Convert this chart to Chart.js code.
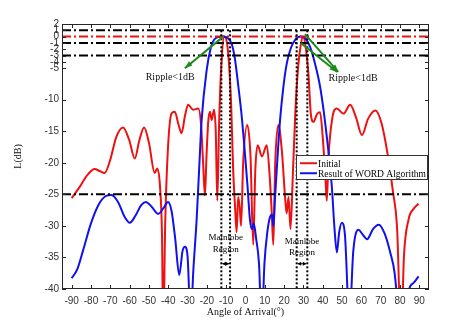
<!DOCTYPE html>
<html>
<head>
<meta charset="utf-8">
<script src="https://cdn.jsdelivr.net/npm/chart.js"></script>
<style>
  html, body { margin: 0; padding: 0; background: #fff; }
  #wrap { width: 474px; height: 326px; }
</style>
</head>
<body>
<div id="wrap"><canvas id="myChart"></canvas></div>
<script>
// pattern of the initial array (red) and after WORD (blue), level in dB vs angle
const redAngle = [-90, -86, -82, -78.1, -75.5, -72.9, -70, -67, -63.4, -60.3, -57.3, -55, -52.5, -50, -47, -45.7,
  -44.2, -43.2, -42.6, -41.6, -40.2, -38.3, -36.6, -34.8, -33.1, -31.3, -29.7, -27.1, -24.5, -23, -21.8, -21,
  -20.2, -19.3, -18.4, -17.5, -16.3, -15.4, -14.6, -13.6, -12.5, -11, -9.5, -8.5, -7.4, -6.4, -5.4, -4.6,
  -3.8, -3, -2.3, -1.2, 0.9, 2.6, 4, 5.1, 6.3, 8.5, 11, 12.5, 13.6, 14.4, 15.4, 17, 18.8, 20.5, 21.3, 22.3,
  23.3, 24.5, 25.8, 27.2, 28.5, 29.8, 31.2, 32.6, 33.8, 35.2, 37, 38.6, 40, 41.3, 42.1, 43, 45, 47.3, 50.7,
  54.2, 57.2, 60.3, 63.5, 67.2, 70.5, 73.5, 76.3, 78.5, 80.6, 82, 84.4, 87, 89.6];
const redLevel = [-25.6, -23.9, -22, -21, -21.3, -21.6, -19.5, -16, -14.4, -16.3, -19.3, -16.5, -14.4, -16.8, -21.6, -20.9,
  -24, -32, -48, -30, -18, -12.2, -11.9, -13.8, -15.3, -12.5, -10.8, -11.6, -11.4, -14, -21, -25.2,
  -19, -13.5, -11.9, -13.2, -11.6, -15, -26, -13, -4.5, 0, -1.2, -4.5, -11, -21, -27, -31,
  -25.4, -27, -30, -20, -14, -19, -33, -21, -17.2, -19, -17.2, -22, -28, -33, -20, -14, -18, -25.5, -28, -25.4,
  -30.5, -22, -12, -5, -1.5, 0, -1.8, -6, -12.2, -13.5, -12.3, -12, -16, -22, -26, -19, -12.8, -11.4, -12.2,
  -10.8, -12.8, -15.6, -13, -11.7, -13.8, -18.5, -24.5, -30.5, -48, -35, -29, -27.3, -26.5];

const blueAngle = [-90, -87, -84, -80, -76, -72.5, -69.4, -66, -62.5, -59.9, -57, -54, -51.6, -48.5, -45.2, -42.5,
  -40.1, -38.3, -36.4, -34.3, -32.6, -31.4, -30, -28.4, -27, -25.3, -24, -22.7, -20.1, -18, -16.3, -14,
  -11.5, -9, -7.2, -5.5, -3.7, -2, -0.3, 1, 2.3, 3.3, 4.3, 5.5, 7, 8.4, 9.8, 11.3, 12.8, 13.8, 14.4, 15.2,
  16.5, 17.9, 19.6, 21.4, 23.5, 25.7, 28.5, 31, 33.4, 36, 38.6, 40.4, 42.1, 43.5, 44.7, 46.1, 47.3, 48.5,
  49.9, 51.5, 53.8, 55.8, 58.5, 60.5, 63, 66, 69, 72, 75, 77.2, 79, 81.5, 84.3, 86.8, 89.6];
const blueLevel = [-38.3, -36.8, -33.8, -29.6, -26.6, -25.3, -25.1, -26.2, -28.6, -29.5, -28.4, -26.7, -26.2, -27, -28.1, -27.2,
  -26.2, -27.6, -32, -37.8, -34, -33.3, -34.8, -45, -37, -29, -21, -13.2, -5.3, -1.8, -0.5, -0.05,
  0, -0.3, -1.1, -3.5, -7.9, -12.5, -18.5, -23.5, -29, -30.5, -29.6, -32, -36, -46, -36, -31, -28.5, -28.2, -30, -26,
  -19.5, -13.2, -8, -4.2, -1.8, -0.5, 0, -0.3, -1.6, -4.3, -7.9, -11.6, -15.9, -19.8, -23.8, -30.5, -34.2, -31,
  -29.5, -31.5, -45, -34, -30.6, -31.3, -32.1, -30.5, -29.8, -31.2, -34.3, -37.5, -44, -60, -40.6, -39.1, -38];

// axis ticks
const xTicks = [-90, -80, -70, -60, -50, -40, -30, -20, -10, 0, 10, 20, 30, 40, 50, 60, 70, 80, 90];
const yTicks = [2, 1, 0, -1, -2, -3, -4, -5, -10, -15, -20, -25, -30, -35, -40];

// reference levels and mainlobe region edges
const rippleLevels = [1, -1, -3];
const passLevel = 0;
const sidelobeLevel = -25;
const mainlobeEdges = [[-12.5, -8], [26.5, 32]];
const xRange = [-95, 95];

const serif = '"Liberation Serif", "Times New Roman", serif';
const sans = '"Liberation Sans", Arial, sans-serif';

function pts(xs, ys) { return xs.map((v, i) => ({ x: v, y: ys[i] })); }

const dashDot = [9, 3, 2, 3];
const datasets = [
  { label: 'Initial', data: pts(redAngle, redLevel), borderColor: '#ee1111', borderWidth: 2, order: 3,
    pointRadius: 0, cubicInterpolationMode: 'monotone' },
  { label: 'Result of WORD Algorithm', data: pts(blueAngle, blueLevel), borderColor: '#1111ee', borderWidth: 2, order: 2,
    pointRadius: 0, cubicInterpolationMode: 'monotone' },
];
rippleLevels.concat([sidelobeLevel]).forEach(v => datasets.push({
  data: pts(xRange, [v, v]), borderColor: '#000', borderWidth: 2, borderDash: dashDot, pointRadius: 0, order: 1 }));
datasets.push({ data: pts(xRange, [passLevel, passLevel]), borderColor: '#ee1111', borderWidth: 2,
  borderDash: dashDot, pointRadius: 0, order: 1 });
mainlobeEdges.flat().forEach(v => datasets.push({
  data: pts([v, v], [1, -40]), borderColor: '#000', borderWidth: 2, borderDash: [2, 2], pointRadius: 0, order: 0 }));

// notes drawn on top of the plot (axis units)
const rippleNotes = [{ x: -39, y: -6.4 }, { x: 55.7, y: -6.6 }];
const rippleArrows = [[-11.5, 0, -31.4, -5], [30.8, 0.4, 48, -5.6], [28.6, -1, 47.5, -5.6]];
const lobeNoteY = [[-31.9, -33.7], [-32.5, -34.3]];
const lobeArrowY = -36;

function head(ctx, x1, y1, x2, y2, size, spread) {
  const a = Math.atan2(y2 - y1, x2 - x1);
  ctx.beginPath();
  ctx.moveTo(x2, y2);
  ctx.lineTo(x2 - size * Math.cos(a - spread), y2 - size * Math.sin(a - spread));
  ctx.lineTo(x2 - size * Math.cos(a + spread), y2 - size * Math.sin(a + spread));
  ctx.closePath();
  ctx.fill();
}

const extras = {
  id: 'extras',
  afterDraw(chart) {
    const { ctx, chartArea: a, scales: { x, y } } = chart;
    ctx.save();
    // box + inward ticks
    ctx.strokeStyle = '#262626';
    ctx.lineWidth = 1;
    ctx.strokeRect(a.left + 0.5, a.top + 0.5, a.right - a.left - 1, a.bottom - a.top - 1);
    ctx.beginPath();
    xTicks.forEach(v => {
      const p = Math.round(x.getPixelForValue(v)) + 0.5;
      ctx.moveTo(p, a.bottom); ctx.lineTo(p, a.bottom - 4);
      ctx.moveTo(p, a.top); ctx.lineTo(p, a.top + 4);
    });
    yTicks.forEach(v => {
      const p = Math.round(y.getPixelForValue(v)) + 0.5;
      ctx.moveTo(a.left, p); ctx.lineTo(a.left + 4, p);
      ctx.moveTo(a.right, p); ctx.lineTo(a.right - 4, p);
    });
    ctx.stroke();

    // ripple arrows
    ctx.strokeStyle = '#1d8a1d';
    ctx.fillStyle = '#1d8a1d';
    ctx.lineWidth = 2;
    rippleArrows.forEach(([x1, y1, x2, y2]) => {
      const p1 = [x.getPixelForValue(x1), y.getPixelForValue(y1)];
      const p2 = [x.getPixelForValue(x2), y.getPixelForValue(y2)];
      ctx.beginPath(); ctx.moveTo(p1[0], p1[1]); ctx.lineTo(p2[0], p2[1]); ctx.stroke();
      head(ctx, p1[0], p1[1], p2[0], p2[1], 8, 0.35);
    });
    ctx.fillStyle = '#111';
    ctx.font = '10px ' + serif;
    ctx.textAlign = 'center';
    ctx.textBaseline = 'middle';
    rippleNotes.forEach(n => ctx.fillText('Ripple<1dB', x.getPixelForValue(n.x), y.getPixelForValue(n.y)));

    // mainlobe region labels with double arrows
    ctx.font = '9px ' + serif;
    ctx.strokeStyle = '#000';
    ctx.fillStyle = '#000';
    ctx.lineWidth = 1;
    mainlobeEdges.forEach(([l, r], i) => {
      const cx = x.getPixelForValue((l + r) / 2);
      ctx.fillText('Mainlobe', cx, y.getPixelForValue(lobeNoteY[i][0]));
      ctx.fillText('Region', cx, y.getPixelForValue(lobeNoteY[i][1]));
      const ay = y.getPixelForValue(lobeArrowY);
      const xl = x.getPixelForValue(l) + 1, xr = x.getPixelForValue(r) - 1;
      ctx.beginPath(); ctx.moveTo(xl, ay); ctx.lineTo(xr, ay); ctx.stroke();
      head(ctx, cx, ay, xl, ay, 4, 0.5);
      head(ctx, cx, ay, xr, ay, 4, 0.5);
    });

    // legend box
    const w = 131, h = 24;
    const lx = a.right - 2 - w, ly = y.getPixelForValue(-18.8);
    ctx.fillStyle = '#fff';
    ctx.fillRect(lx, ly, w, h);
    ctx.strokeStyle = '#333';
    ctx.strokeRect(Math.round(lx) + 0.5, Math.round(ly) + 0.5, w, h);
    ctx.font = '9.5px ' + serif;
    ctx.textAlign = 'left';
    chart.data.datasets.slice(0, 2).forEach((d, i) => {
      const yy = ly + 8 + i * 10;
      ctx.strokeStyle = d.borderColor;
      ctx.lineWidth = 2;
      ctx.beginPath(); ctx.moveTo(lx + 4, yy); ctx.lineTo(lx + 21, yy); ctx.stroke();
      ctx.fillStyle = '#000';
      ctx.fillText(d.label, lx + 22, yy + 1);
    });
    ctx.restore();
  }
};

new Chart(document.getElementById('myChart'), {
  type: 'line',
  data: { datasets },
  options: {
    responsive: true,
    maintainAspectRatio: false,
    animation: false,
    layout: { padding: { top: 24, right: 45, left: 0, bottom: 0 } },
    plugins: { legend: { display: false }, tooltip: { enabled: false } },
    scales: {
      x: {
        type: 'linear', min: xRange[0], max: xRange[1],
        afterBuildTicks: s => { s.ticks = xTicks.map(v => ({ value: v })); },
        afterFit: s => { s.height = 37; },
        grid: { display: false, drawTicks: false },
        border: { display: false },
        ticks: { autoSkip: false, maxRotation: 0, padding: 6, color: '#333', font: { family: sans, size: 10 } },
        title: { display: true, text: 'Angle of Arrival(°)', color: '#111', font: { family: serif, size: 10 },
          padding: { top: 0, bottom: 8 } }
      },
      y: {
        min: -40, max: 2,
        afterBuildTicks: s => { s.ticks = yTicks.map(v => ({ value: v })); },
        afterFit: s => { s.width = 62; },
        grid: { display: false, drawTicks: false },
        border: { display: false },
        ticks: { autoSkip: false, padding: 3, color: '#333', font: { family: sans, size: 10 } },
        title: { display: true, text: 'L(dB)', color: '#111', font: { family: serif, size: 10 },
          padding: { top: 12, bottom: 0 } }
      }
    }
  },
  plugins: [extras]
});
</script>
</body>
</html>
